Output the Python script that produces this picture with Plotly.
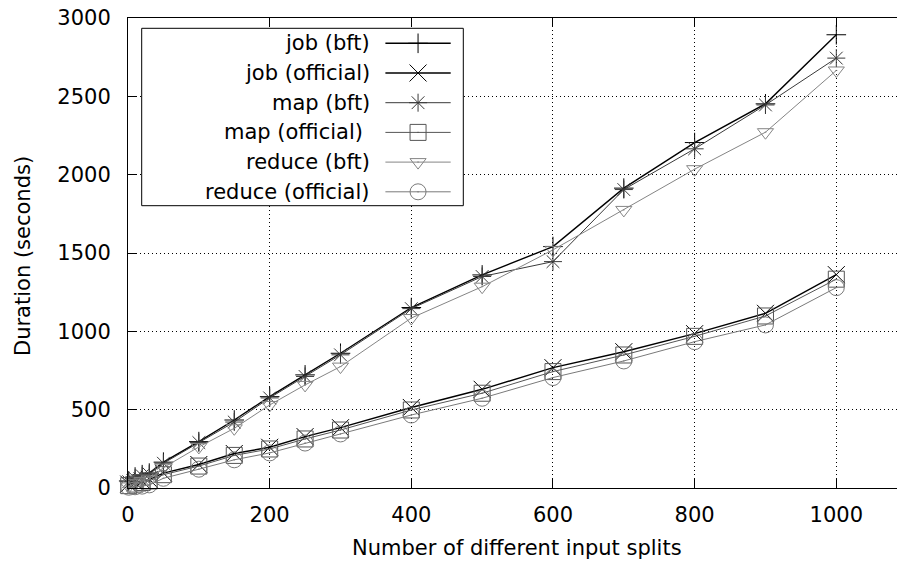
import plotly.graph_objects as go

# Number of input splits
splits = [1, 10, 20, 30, 50, 100, 150, 200, 250, 300, 400, 500, 600, 700, 800, 900, 1000]

# Durations in seconds
job_bft = [45, 70, 85, 95, 165, 296, 434, 583, 722, 860, 1152, 1360, 1541, 1914, 2205, 2452, 2893]
job_official = [25, 35, 45, 55, 95, 150, 220, 260, 328, 385, 514, 630, 768, 870, 985, 1115, 1362]
map_bft = [40, 62, 78, 88, 158, 290, 421, 575, 712, 850, 1145, 1350, 1445, 1905, 2165, 2445, 2744]
map_official = [15, 25, 35, 45, 85, 140, 208, 249, 313, 370, 498, 605, 743, 849, 968, 1098, 1333]
reduce_bft = [10, 30, 45, 55, 130, 262, 381, 530, 658, 775, 1085, 1285, 1520, 1775, 2035, 2271, 2665]
reduce_official = [5, 8, 12, 20, 62, 120, 180, 224, 287, 345, 466, 573, 705, 811, 934, 1041, 1279]

series_names = ["job (bft)", "job (official)", "map (bft)", "map (official)\u00a0",
                "reduce (bft)", "reduce (official)"]
series_values = [job_bft, job_official, map_bft, map_official, reduce_bft, reduce_official]
series_colors = ["#000000", "#000000", "#3a3a3a", "#555555", "#858585", "#7a7a7a"]
series_widths = [1.4, 1.4, 1.0, 1.0, 1.0, 1.0]
series_symbols = ["cross-thin", "x-thin", "asterisk", "square-open-dot",
                  "triangle-down-open-dot", "circle-open-dot"]
series_sizes = [14, 17, 15, 16, 14, 16]

x_ticks = [0, 200, 400, 600, 800, 1000]
y_ticks = [0, 500, 1000, 1500, 2000, 2500, 3000]

FONT = "DejaVu Sans"
W, H = 897, 565
ML, MT, MB, MR = 128, 18, 77, 0
PW, PH = W - ML - MR, H - MT - MB

fig = go.Figure()

for name, vals, col, lw, sym, sz in zip(series_names, series_values, series_colors,
                                        series_widths, series_symbols, series_sizes):
    fig.add_trace(go.Scatter(
        x=splits, y=vals, mode="lines+markers", name=name, showlegend=False,
        line=dict(color=col, width=lw),
        marker=dict(symbol=sym, size=sz, color=col, line=dict(color=col, width=1)),
        cliponaxis=False,
    ))

# Key box (gnuplot style: label on the left, sample on the right), laid out in
# pixels from the top-left corner of the plotting area on an overlay axis.
key_box = (13.7, 10.3, 335.3, 187.7)
key_text_right = 243.7
key_line = (257.4, 322.7)
key_row0, key_row_step = 25.3, 29.7

bx0, by0, bx1, by1 = key_box
fig.add_trace(go.Scatter(
    x=[bx0, bx1, bx1, bx0, bx0], y=[by0, by0, by1, by1, by0],
    xaxis="x2", yaxis="y2", mode="lines", fill="toself", fillcolor="white",
    line=dict(color="black", width=1), showlegend=False, hoverinfo="skip",
))

for i, (name, col, lw, sym, sz) in enumerate(zip(series_names, series_colors, series_widths,
                                                 series_symbols, series_sizes)):
    ry = key_row0 + i * key_row_step
    fig.add_trace(go.Scatter(
        x=[key_line[0], (key_line[0] + key_line[1]) / 2, key_line[1]], y=[ry, ry, ry],
        xaxis="x2", yaxis="y2", mode="lines", showlegend=False, hoverinfo="skip",
        line=dict(color=col, width=lw),
    ))
    fig.add_trace(go.Scatter(
        x=[(key_line[0] + key_line[1]) / 2], y=[ry],
        xaxis="x2", yaxis="y2", mode="markers", showlegend=False, hoverinfo="skip",
        marker=dict(symbol=sym, size=sz, color=col, line=dict(color=col, width=1)),
    ))
    fig.add_annotation(xref="x2", yref="y2", x=key_text_right, y=ry, text=name,
                       showarrow=False, xanchor="right", yanchor="middle",
                       font=dict(family=FONT, size=21, color="black"))

# Axis titles
fig.add_annotation(xref="paper", yref="paper", x=(517 - ML) / PW, y=-60 / PH,
                   text="Number of different input splits", showarrow=False,
                   xanchor="center", yanchor="middle",
                   font=dict(family=FONT, size=21, color="black"))
fig.add_annotation(xref="paper", yref="paper", x=(23 - ML) / PW, y=(H - MB - 256) / PH,
                   text="Duration (seconds)", showarrow=False, textangle=-90,
                   xanchor="center", yanchor="middle",
                   font=dict(family=FONT, size=21, color="black"))

grid_dash = "1px,3px"
fig.update_layout(
    width=W, height=H,
    margin=dict(l=ML, r=MR, t=MT, b=MB, pad=0),
    paper_bgcolor="white", plot_bgcolor="white",
    font=dict(family=FONT, size=21, color="black"),
    showlegend=False,
    xaxis=dict(
        range=[0, PW / 0.7083], tickvals=x_ticks, ticktext=[str(v) for v in x_ticks],
        ticks="inside", ticklen=9, tickwidth=1, tickcolor="black",
        showline=True, linecolor="black", linewidth=1, mirror="ticks",
        showgrid=True, gridcolor="black", gridwidth=1, griddash=grid_dash,
        zeroline=False, ticklabelstandoff=8,
    ),
    yaxis=dict(
        range=[0, 3000], tickvals=y_ticks, ticktext=[str(v) for v in y_ticks],
        ticks="inside", ticklen=9, tickwidth=1, tickcolor="black",
        showline=True, linecolor="black", linewidth=1, mirror=False,
        showgrid=True, gridcolor="black", gridwidth=1, griddash=grid_dash,
        zeroline=False, ticklabelstandoff=12,
    ),
    xaxis2=dict(overlaying="x", range=[0, PW], visible=False, showgrid=False),
    yaxis2=dict(overlaying="y", range=[PH, 0], visible=False, showgrid=False),
)

fig.write_html("out.html")
